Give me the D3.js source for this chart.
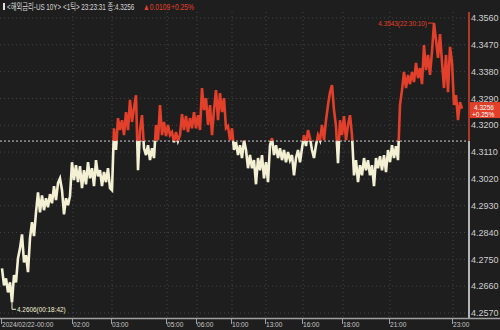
<!DOCTYPE html>
<meta charset="utf-8">
<title>US 10Y tick chart</title>
<style>
body { margin: 0; background: #1e1e1e; }
svg { display: block; }
text { font-family: "Liberation Sans Narrow", "Liberation Sans", Arial, "Noto Sans CJK KR", sans-serif; }
</style>
<svg width="500" height="330"></svg>
<script src="https://cdn.jsdelivr.net/npm/d3@7"></script>
<script>

// tick prices, one sample every 2px of the original chart
var prices = [
  4.2720, 4.2663, 4.2686, 4.2639, 4.2673, 4.2606, 4.2697, 4.2673, 4.2754, 4.2787,
  4.2834, 4.2740, 4.2764, 4.2707, 4.2821, 4.2875, 4.2828, 4.2908, 4.2975, 4.2908,
  4.2965, 4.2915, 4.2955, 4.2925, 4.2969, 4.2938, 4.2996, 4.2949, 4.3006, 4.3022,
  4.2982, 4.2901, 4.2955, 4.2932, 4.2962, 4.3076, 4.3016, 4.3066, 4.3009, 4.3063,
  4.2989, 4.3049, 4.3002, 4.3076, 4.3022, 4.3056, 4.2996, 4.3083, 4.3029, 4.3049,
  4.2996, 4.3043, 4.3009, 4.3056, 4.2989, 4.2982, 4.3190, 4.3117, 4.3224, 4.3184,
  4.3217, 4.3167, 4.3244, 4.3184, 4.3285, 4.3211, 4.3258, 4.3301, 4.3049, 4.3184,
  4.3234, 4.3123, 4.3100, 4.3133, 4.3083, 4.3123, 4.3090, 4.3201, 4.3150, 4.3268,
  4.3167, 4.3211, 4.3164, 4.3201, 4.3167, 4.3177, 4.3143, 4.3177, 4.3148, 4.3167,
  4.3237, 4.3184, 4.3231, 4.3177, 4.3224, 4.3190, 4.3244, 4.3190, 4.3234, 4.3184,
  4.3325, 4.3251, 4.3291, 4.3201, 4.3268, 4.3167, 4.3251, 4.3318, 4.3217, 4.3308,
  4.3244, 4.3291, 4.3190, 4.3197, 4.3150, 4.3190, 4.3117, 4.3143, 4.3100, 4.3133,
  4.3090, 4.3150, 4.3117, 4.3056, 4.3100, 4.3056, 4.3083, 4.3002, 4.3090, 4.3049,
  4.3100, 4.3022, 4.3076, 4.3009, 4.3133, 4.3157, 4.3100, 4.3133, 4.3090, 4.3123,
  4.3083, 4.3117, 4.3076, 4.3110, 4.3083, 4.3100, 4.3032, 4.3090, 4.3117, 4.3076,
  4.3123, 4.3167, 4.3130, 4.3184, 4.3157, 4.3117, 4.3090, 4.3133, 4.3167, 4.3150,
  4.3201, 4.3150, 4.3217, 4.3268, 4.3311, 4.3335, 4.3251, 4.3197, 4.3073, 4.3217,
  4.3167, 4.3231, 4.3150, 4.3201, 4.3234, 4.3167, 4.3032, 4.3083, 4.3009, 4.3066,
  4.3032, 4.3090, 4.3049, 4.3083, 4.3032, 4.3066, 4.2996, 4.3090, 4.3056, 4.3096,
  4.3049, 4.3100, 4.3043, 4.3117, 4.3076, 4.3133, 4.3090, 4.3130, 4.3083, 4.3268,
  4.3318, 4.3379, 4.3325, 4.3369, 4.3338, 4.3379, 4.3345, 4.3409, 4.3358, 4.3392,
  4.3338, 4.3469, 4.3385, 4.3436, 4.3369, 4.3446, 4.3543, 4.3486, 4.3426, 4.3506,
  4.3412, 4.3325, 4.3436, 4.3311, 4.3463, 4.3412, 4.3268, 4.3301, 4.3217, 4.3278,
  4.3256
];
var yTicks = [4.3560, 4.3470, 4.3380, 4.3290, 4.3200, 4.3110, 4.3020, 4.2930, 4.2840, 4.2750, 4.2660, 4.2570];
var xTickIdx = [0, 35.5, 55, 82.5, 97.5, 115, 132, 150.5, 170.5, 194, 225.5];
var xTickLabels = ["2024/02/22-00:00", "02:00", "03:00", "05:00", "06:00", "10:00", "13:00", "16:00", "18:00", "21:00", "23:00"];
var prevClose = 4.3147;
var hiTime = "22:30:10", loTime = "00:18:42";
var title = "<해외금리-US 10Y> <1틱> 23:23:31 종:";
var change = "0.0109", changePct = "+0.25%";

var red = "#e3402b", cream = "#f3f0d4";

var svg = d3.select("svg"),
    plotRight = 468, plotTop = 12, plotBottom = 318;

// squeeze text horizontally, the terminal font is very narrow
function condense(sel, k) {
  sel.each(function() {
    var t = d3.select(this);
    var tx = +t.attr("x") || 0, ty = +t.attr("y") || 0;
    t.attr("x", 0).attr("y", 0)
     .attr("transform", "translate(" + tx + "," + ty + ") scale(" + k + ",1)");
  });
}

var x = d3.scaleLinear().domain([0, prices.length - 1]).range([2, 462]);
var y = d3.scaleLinear().domain([4.2570, 4.3560]).range([313, 18]);
var fmt = d3.format(".4f");
var yBase = y(prevClose);

var g = svg.append("g");

// grid
g.selectAll(".hgrid").data(yTicks).enter().append("line")
  .attr("x1", 0).attr("x2", plotRight)
  .attr("y1", function(d) { return y(d); }).attr("y2", function(d) { return y(d); })
  .attr("stroke", "#444").attr("stroke-dasharray", "1,3");

g.selectAll(".vgrid").data(xTickIdx.slice(1)).enter().append("line")
  .attr("x1", function(d) { return x(d); }).attr("x2", function(d) { return x(d); })
  .attr("y1", plotTop).attr("y2", plotBottom)
  .attr("stroke", "#444").attr("stroke-dasharray", "1,3");

// clip above / below previous close
var defs = svg.append("defs");
defs.append("clipPath").attr("id", "up").append("rect")
  .attr("x", 0).attr("y", 0).attr("width", plotRight).attr("height", yBase);
defs.append("clipPath").attr("id", "dn").append("rect")
  .attr("x", 0).attr("y", yBase).attr("width", plotRight).attr("height", plotBottom - yBase);

var line = d3.line()
  .x(function(d, i) { return x(i); })
  .y(function(d) { return y(d); });

g.append("path").datum(prices)
  .attr("d", line).attr("fill", "none")
  .attr("stroke", red).attr("stroke-width", 2.6)
  .attr("clip-path", "url(#up)");
g.append("path").datum(prices)
  .attr("d", line).attr("fill", "none")
  .attr("stroke", cream).attr("stroke-width", 2.6)
  .attr("clip-path", "url(#dn)");

// previous close line
g.append("line")
  .attr("x1", 0).attr("x2", plotRight)
  .attr("y1", yBase).attr("y2", yBase)
  .attr("stroke", "#cfcfcf").attr("stroke-dasharray", "2,2");

// right axis line, red above prev close
g.append("line").attr("x1", plotRight + 1).attr("x2", plotRight + 1)
  .attr("y1", plotTop).attr("y2", yBase).attr("stroke", red).attr("stroke-width", 1.5);
g.append("line").attr("x1", plotRight + 1).attr("x2", plotRight + 1)
  .attr("y1", yBase).attr("y2", plotBottom).attr("stroke", "#e8e8e8").attr("stroke-width", 1.5);

g.selectAll(".ylab").data(yTicks).enter().append("text")
  .attr("x", plotRight + 3).attr("y", function(d) { return y(d); })
  .attr("dy", "0.35em")
  .attr("fill", "#cfcfcf").style("font-size", "9px")
  .text(fmt);

// bottom axis
g.append("line").attr("x1", 0).attr("x2", 500)
  .attr("y1", plotBottom + 0.5).attr("y2", plotBottom + 0.5)
  .attr("stroke", "#a0a0a0").attr("stroke-width", 1.5);

var xt = g.selectAll(".xt").data(xTickIdx).enter().append("g")
  .attr("transform", function(d) { return "translate(" + Math.round(x(d) - 1) + ",0)"; });
xt.append("line").attr("x1", 0.5).attr("x2", 0.5)
  .attr("y1", plotBottom).attr("y2", plotBottom + 6).attr("stroke", "#a0a0a0");
xt.append("text").attr("x", 1).attr("y", 327)
  .attr("fill", "#c8c8c8").style("font-size", "8px")
  .text(function(d, i) { return xTickLabels[i]; })
  .call(condense, 0.82);

// high / low annotations
var hiI = d3.maxIndex(prices), loI = d3.minIndex(prices);
g.append("path")
  .attr("d", "M" + x(hiI) + "," + y(prices[hiI]) + "H" + (x(hiI) - 6))
  .attr("stroke", red).attr("fill", "none");
g.append("text").attr("x", x(hiI) - 7).attr("y", y(prices[hiI]))
  .attr("dy", "0.35em").attr("text-anchor", "end")
  .attr("fill", red).style("font-size", "8px")
  .text(fmt(prices[hiI]) + "(" + hiTime + ")")
  .call(condense, 0.8);

g.append("path")
  .attr("d", "M" + x(loI) + "," + y(prices[loI]) + "V" + (y(prices[loI]) + 7) + "h4")
  .attr("stroke", cream).attr("fill", "none");
g.append("text").attr("x", x(loI) + 5).attr("y", y(prices[loI]) + 7)
  .attr("dy", "0.35em")
  .attr("fill", cream).style("font-size", "8px")
  .text(fmt(prices[loI]) + "(" + loTime + ")")
  .call(condense, 0.8);

// last price box (sits just under the 4.3290 label)
var last = prices[prices.length - 1];
var ly = y(last);
g.append("rect").attr("x", plotRight + 2).attr("y", ly - 6.5)
  .attr("width", 500 - plotRight - 2).attr("height", 16).attr("fill", red);
var lt = g.append("text").attr("fill", "#fff").style("font-size", "6.5px");
lt.append("tspan").attr("x", plotRight + 6).attr("y", ly + 1.8).text(fmt(last));
lt.append("tspan").attr("x", plotRight + 4).attr("y", ly + 8.6).text(changePct);

// header
svg.append("rect").attr("x", 3).attr("y", 3).attr("width", 2).attr("height", 7).attr("fill", "#e0e0e0");
svg.append("text").attr("x", 7).attr("y", 10).style("font-size", "9px")
  .attr("fill", "#d8d8d8").text(title + fmt(last))
  .call(condense, 0.7);
svg.append("text").attr("x", 143).attr("y", 10).style("font-size", "9px")
  .attr("fill", red).text("▲" + change)
  .call(condense, 0.75);
svg.append("text").attr("x", 171).attr("y", 10).style("font-size", "9px")
  .attr("fill", red).text(changePct)
  .call(condense, 0.75);

</script>
